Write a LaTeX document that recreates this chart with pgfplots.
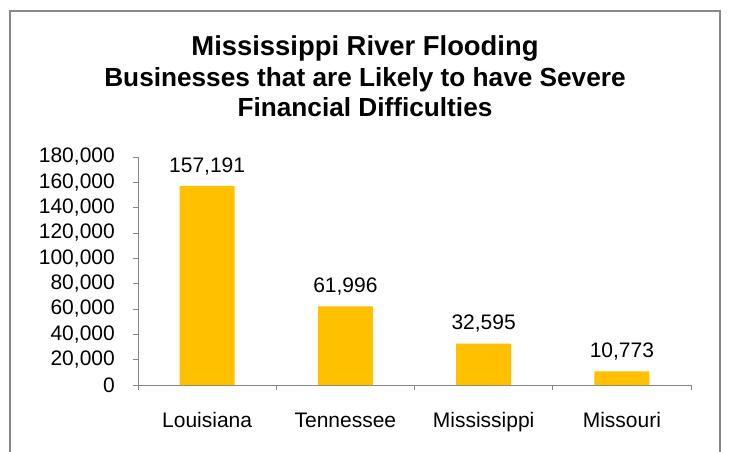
\documentclass[border=0pt]{standalone}
\usepackage{fontspec}
\setmainfont{Liberation Sans}
\usepackage{pgfplots}
\pgfplotsset{compat=1.18}
\definecolor{barc}{HTML}{FFC000}
\definecolor{framec}{HTML}{888888}
\definecolor{axisc}{HTML}{868686}
\begin{document}
\begin{tikzpicture}[x=1pt,y=1pt]
\useasboundingbox (0,0) rectangle (730,451);
\draw[framec, line width=1.5pt] (10,-5) -- (10,440) -- (720,440) -- (720,-5);
\node[font=\fontsize{27.4}{30}\selectfont\bfseries, anchor=base, inner sep=0pt] at (365,395.3) {Mississippi River Flooding};
\node[font=\fontsize{26.2}{30}\selectfont\bfseries, anchor=base, inner sep=0pt] at (365,364.3) {Businesses that are Likely to have Severe};
\node[font=\fontsize{26.2}{30}\selectfont\bfseries, anchor=base, inner sep=0pt] at (365,334.3) {Financial Difficulties};
\begin{axis}[
  at={(138pt,66pt)}, anchor=south west,
  scale only axis, width=553pt, height=228pt,
  xmin=-0.5, xmax=3.5, ymin=0, ymax=180000,
  enlargelimits=false,
  axis x line=bottom, axis y line=left,
  axis line style={axisc, line width=0.9pt, -},
  xtick={0,1,2,3},
  xticklabels={Louisiana,Tennessee,Mississippi,Missouri},
  minor xtick={-0.5,0.5,1.5,2.5,3.5},
  ytick={0,20000,...,180000},
  tick align=outside,
  major tick length=5pt, minor tick length=5pt,
  tick style={axisc, line width=0.9pt},
  major x tick style={draw=none},
  scaled y ticks=false,
  ticklabel style={font=\fontsize{21}{24}\selectfont, text=black},
  yticklabel style={anchor=east, inner sep=0pt, xshift=-18pt},
  xticklabel style={anchor=base, inner sep=0pt, yshift=-37pt},
  ybar, bar width=55pt,
  nodes near coords,
  every node near coord/.append style={font=\fontsize{21}{24}\selectfont, text=black, inner sep=0pt, yshift=11pt},
  /pgf/number format/fixed,
  /pgf/number format/precision=0,
  /pgf/number format/1000 sep={,},
  /pgf/number format/assume math mode=true,
]
\addplot[fill=barc, draw=none] coordinates {(0,157191) (1,61996) (2,32595) (3,10773)};
\end{axis}
\end{tikzpicture}
\end{document}
